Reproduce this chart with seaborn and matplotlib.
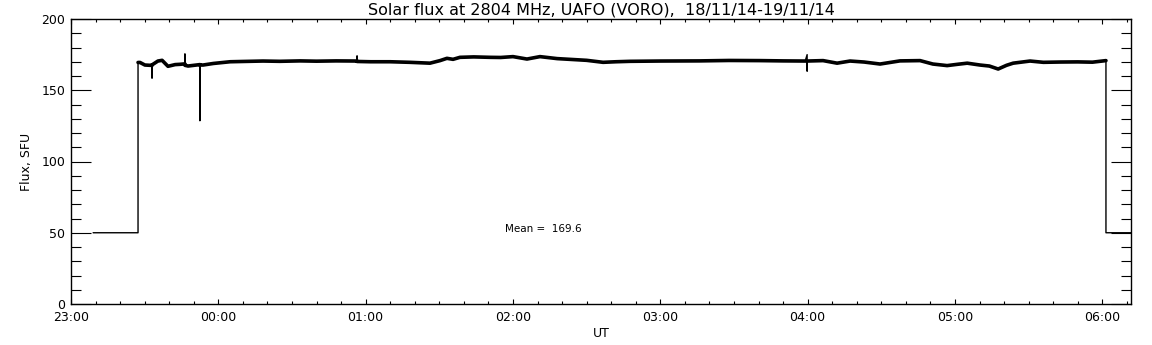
import matplotlib
matplotlib.use("Agg")
import matplotlib.pyplot as plt
import seaborn as sns
import pandas as pd
from matplotlib.ticker import FixedLocator, MultipleLocator

# minutes after 23:00 UT
minutes = [9.0, 27.3, 27.3, 28.1, 30.1, 32.2, 33.0, 33.0, 33.0, 35.4, 37.1, 39.5,
           42.4, 44.4, 46.4, 46.4, 46.4, 47.7, 52.5, 52.5, 52.5, 53.8, 58.0, 64.8,
           70.0, 78.2, 85.0, 93.3, 100.0, 108.0, 116.5, 116.5, 116.5, 122.0, 130.0,
           138.0, 146.2, 150.3, 153.1, 155.6, 158.4, 164.0, 170.7, 175.0, 180.0,
           185.7, 191.0, 198.0, 203.0, 210.0, 216.7, 222.0, 227.7, 240.0, 256.0,
           268.0, 280.6, 290.0, 299.0, 299.8, 299.8, 299.8, 306.3, 312.0, 317.3,
           323.0, 329.5, 337.6, 345.8, 351.0, 356.8, 361.0, 365.0, 370.2, 374.0,
           377.6, 381.0, 383.7, 390.6, 396.0, 402.8, 410.0, 416.0, 421.5, 421.5,
           431.7]
flux = [50.0, 50.0, 169.5, 169.5, 167.7, 167.5, 167.5, 158.6, 167.8, 170.5, 171.0, 166.8,
        168.0, 168.2, 168.5, 175.4, 167.5, 167.0, 168.0, 128.7, 167.7, 167.7, 168.8, 170.0,
        170.2, 170.5, 170.3, 170.6, 170.4, 170.6, 170.5, 174.0, 170.2, 170.0, 170.0,
        169.6, 169.0, 170.8, 172.4, 171.7, 173.1, 173.4, 173.1, 173.0, 173.6,
        171.9, 173.6, 172.2, 171.7, 171.0, 169.6, 170.0, 170.3, 170.5, 170.6,
        170.9, 170.8, 170.6, 170.5, 175.0, 163.5, 170.5, 170.8, 169.0, 170.5,
        169.8, 168.4, 170.6, 170.8, 168.4, 167.3, 168.2, 169.0, 167.7, 167.0,
        164.9, 167.5, 169.0, 170.5, 169.6, 169.8, 169.9, 169.7, 170.8, 50.0,
        50.0]
# indices of the short glitch tips (drawn thin)
spike_idx = [7, 15, 19, 31, 59, 60]

hour_labels = ["23:00", "00:00", "01:00", "02:00", "03:00", "04:00", "05:00", "06:00"]
title = "Solar flux at 2804 MHz, UAFO (VORO),  18/11/14-19/11/14"
mean_text = "Mean =  169.6"

sns.set_style("ticks")
plt.rcParams["font.family"] = ["DejaVu Sans"]
plt.rcParams["text.color"] = "black"
plt.rcParams["axes.labelcolor"] = "black"
plt.rcParams["xtick.color"] = "black"
plt.rcParams["ytick.color"] = "black"

df = pd.DataFrame({"t": minutes, "flux": flux})
plateau = df.iloc[2:-2].drop(index=spike_idx)

fig = plt.figure(figsize=(11.52, 3.45), dpi=100)
ax = fig.add_axes([71 / 1152, 41 / 345, 1060 / 1152, 285 / 345])

sns.lineplot(data=df, x="t", y="flux", sort=False, estimator=None,
             color="black", linewidth=1.0, ax=ax)
sns.lineplot(data=plateau, x="t", y="flux", sort=False, estimator=None,
             color="black", linewidth=2.6, ax=ax)

ax.set_xlim(0, 431.7)
ax.set_ylim(0, 200)

ax.xaxis.set_major_locator(FixedLocator([60 * i for i in range(len(hour_labels))]))
ax.set_xticklabels(hour_labels)
ax.xaxis.set_minor_locator(MultipleLocator(10))
ax.yaxis.set_major_locator(MultipleLocator(50))
ax.yaxis.set_minor_locator(MultipleLocator(10))

ax.tick_params(axis="x", which="major", direction="in", length=3.6, width=0.8,
               top=True, bottom=True, labelsize=9, pad=5, colors="black")
ax.tick_params(axis="x", which="minor", direction="in", length=2.0, width=0.8,
               top=True, bottom=True)
ax.tick_params(axis="y", which="major", direction="in", length=14.4, width=0.8,
               left=True, right=True, labelsize=9, pad=4, colors="black")
ax.tick_params(axis="y", which="minor", direction="in", length=7.2, width=0.8,
               left=True, right=True)
for s in ax.spines.values():
    s.set_visible(True)
    s.set_linewidth(1.0)
    s.set_color("black")

ax.set_xlabel("UT", fontsize=9, labelpad=2, color="black")
ax.set_ylabel("Flux, SFU", fontsize=9, labelpad=6, color="black")
ax.set_title(title, fontsize=11.5, pad=3, color="black")
ax.text(176.8, 52.5, mean_text, fontsize=7.5, ha="left", va="center", color="black")

fig.savefig("out.png", dpi=100, facecolor="white")
